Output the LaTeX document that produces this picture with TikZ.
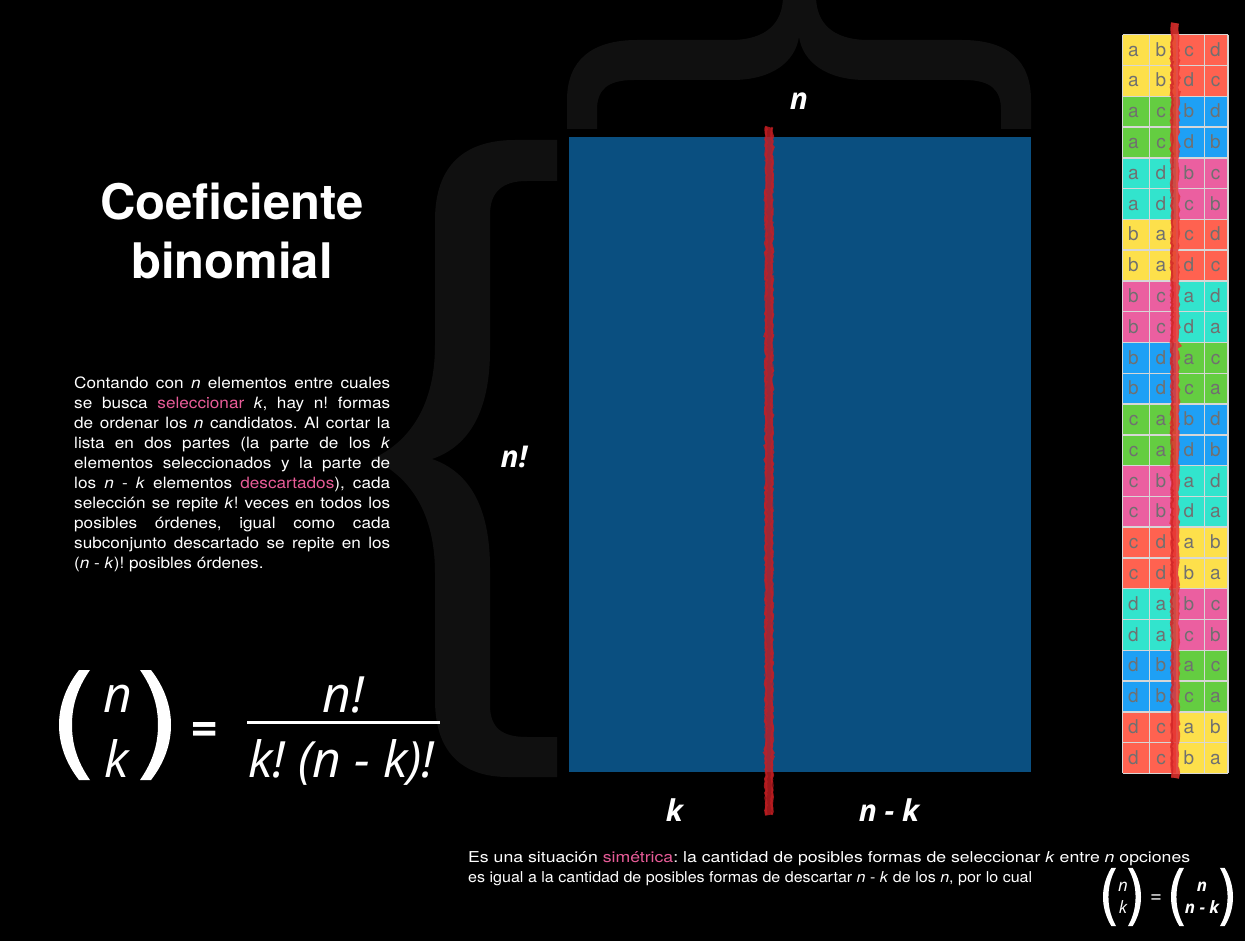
\documentclass[tikz,border=0pt]{standalone}
\usepackage{fontspec}
\usepackage{graphicx}
\setmainfont{TeX Gyre Heros}
\newfontfamily\osans{Open Sans}
\newfontfamily\parafont{TeX Gyre Heros}[FakeStretch=1.1]
\usetikzlibrary{decorations.pathmorphing}
\definecolor{bgblue}{RGB}{10,79,128}
\definecolor{bracegray}{RGB}{16,16,16}
\definecolor{pinktxt}{RGB}{232,92,152}
\definecolor{cY}{RGB}{253,224,75}
\definecolor{cR}{RGB}{255,98,80}
\definecolor{cG}{RGB}{100,205,65}
\definecolor{cB}{RGB}{30,160,245}
\definecolor{cT}{RGB}{50,228,205}
\definecolor{cP}{RGB}{235,95,160}
\definecolor{lettergray}{RGB}{112,112,112}
\definecolor{gridgray}{RGB}{215,215,215}
\definecolor{cutred}{RGB}{200,30,35}
\definecolor{cutred2}{RGB}{228,52,48}
\newcommand\parenshape{(20,-55) -- (31,-55) .. controls (17,-35) and (13,-17) .. (13,0) .. controls (13,17) and (17,35) .. (31,55) -- (20,55) .. controls (6,37) and (0,18) .. (0,0) .. controls (0,-18) and (6,-37) .. (20,-55) -- cycle}
\frenchspacing
\begin{document}
\begin{tikzpicture}[x=1pt,y=-1pt,
  para/.style={text=white,inner sep=0pt,anchor=base west,font=\parafont\fontsize{15.6}{20}\selectfont},
  titletxt/.style={text=white,inner sep=0pt,anchor=base,font=\bfseries\fontsize{49}{49}\selectfont},
  lbl/.style={text=white,inner sep=0pt,anchor=base,font=\osans\bfseries\itshape\fontsize{30}{30}\selectfont},
  frm/.style={text=white,inner sep=0pt,anchor=base,font=\osans\itshape\fontsize{50}{50}\selectfont},
  sfrm/.style={text=white,inner sep=0pt,anchor=base,font=\osans\itshape\fontsize{17}{17}\selectfont},
  sfrmb/.style={text=white,inner sep=0pt,anchor=base,font=\osans\bfseries\itshape\fontsize{17}{17}\selectfont},
  lt/.style={text=lettergray,inner sep=0pt,anchor=base,font=\fontsize{19}{19}\selectfont},
  cut/.style={draw=cutred,opacity=0.78,line width=8pt,decorate,decoration={random steps,segment length=3pt,amplitude=1.2pt}},
  cutthin/.style={draw=cutred,opacity=0.6,line width=2pt,decorate,decoration={random steps,segment length=2pt,amplitude=1pt}},
  cutg/.style={draw=cutred2,opacity=0.85,line width=8pt,decorate,decoration={random steps,segment length=3pt,amplitude=1.2pt}},
  bottomtxt/.style={text=white,inner sep=0pt,anchor=base west,font=\fontsize{15}{18}\selectfont}]
\fill[black] (0,0) rectangle (1245,941);
\useasboundingbox (0,0) rectangle (1245,941);
% top brace
\fill[bracegray] (567,129) -- (567,100) .. controls (567,60) and (592,40) .. (637,40) -- (730,40) .. controls (768,40) and (782,22) .. (783,-2) -- (816,-2) .. controls (817,22) and (831,40) .. (869,40) -- (962,40) .. controls (1007,40) and (1031,60) .. (1031,100) -- (1031,129) -- (1001,129) -- (1001,110) .. controls (1001,90) and (991,80) .. (964,80) -- (866,80) .. controls (826,80) and (803,62) .. (799,37) .. controls (795,62) and (772,80) .. (732,80) -- (634,80) .. controls (607,80) and (597,90) .. (597,110) -- (597,129) -- cycle;
% left brace
\fill[bracegray] (557,140) -- (515,140) .. controls (465,140) and (435,165) .. (435,220) -- (435,345) .. controls (435,405) and (410,442) .. (372,459) .. controls (410,476) and (435,513) .. (435,573) -- (435,700) .. controls (435,752) and (462,777) .. (508,777) -- (557,777) -- (557,737) -- (527,737) .. controls (502,737) and (490,728) .. (490,705) -- (490,568) .. controls (490,508) and (470,472) .. (432,459) .. controls (470,446) and (490,410) .. (490,350) -- (490,215) .. controls (490,192) and (502,181) .. (527,181) -- (557,181) -- cycle;
% blue block
\fill[bgblue] (569,137) rectangle (1031,772);
\coordinate (ct) at (769,127);
\coordinate (cb) at (769,815);
\draw[cut] (ct) -- (cb);
\draw[cutthin] ([xshift=-3pt]ct) -- ([xshift=-3pt]cb);
\draw[cutthin] ([xshift=3pt]ct) -- ([xshift=3pt]cb);
% labels
\node[lbl] (ln) at (799,110) {n};
\node[lbl] (lnf) at (514,467) {n!};
\node[lbl] (lk) at (674.5,821) {k};
\node[lbl] (lnk) at (889,821) {n - k};
% title
\node[titletxt] (t1) at (232,220) {Coeficiente};
\node[titletxt] (t2) at (232,279) {binomial};
% paragraph
\foreach \txt [count=\i] in {
 {Contando con \textit{n} elementos entre cuales},
 {se busca \textcolor{pinktxt}{seleccionar} \textit{k}, hay n! formas},
 {de ordenar los \textit{n} candidatos. Al cortar la},
 {lista en dos partes (la parte de los \textit{k}},
 {elementos seleccionados y la parte de},
 {los \textit{n} - \textit{k} elementos \textcolor{pinktxt}{descartados}), cada},
 {selección se repite \textit{k}! veces en todos los},
 {posibles órdenes, igual como cada},
 {subconjunto descartado se repite en los}}
{\node[para] (p\i) at (74,{368+20*\i}) {\makebox[316pt][s]{\txt}};}
\node[para] (p10) at (74,568) {(\textit{n} - \textit{k})! posibles órdenes.};
% main formula
\begin{scope}[shift={(59,725)}]
\fill[white] \parenshape;
\end{scope}
\begin{scope}[shift={(171,725)},xscale=-1]
\fill[white] \parenshape;
\end{scope}
\node[frm] (fn) at (117.5,712) {n};
\node[frm] (fk) at (117,777) {k};
\node[text=white,inner sep=0pt,anchor=base,font=\osans\bfseries\fontsize{46}{46}\selectfont] (feq) at (205,745) {=};
\node[frm] (fnum) at (343,712) {n!};
\node[frm] (fden) at (341.5,777) {k! (n - k)!};
\coordinate (fl1) at (247,722.5);
\coordinate (fl2) at (440,722.5);
\draw[white,line width=3pt] (fl1) -- (fl2);
% grid
\foreach \pa/\pb/\pc/\pd/\cl/\cr [count=\i] in {a/b/c/d/Y/R, a/b/d/c/Y/R, a/c/b/d/G/B, a/c/d/b/G/B, a/d/b/c/T/P, a/d/c/b/T/P, b/a/c/d/Y/R, b/a/d/c/Y/R, b/c/a/d/P/T, b/c/d/a/P/T, b/d/a/c/B/G, b/d/c/a/B/G, c/a/b/d/G/B, c/a/d/b/G/B, c/b/a/d/P/T, c/b/d/a/P/T, c/d/a/b/R/Y, c/d/b/a/R/Y, d/a/b/c/T/P, d/a/c/b/T/P, d/b/a/c/B/G, d/b/c/a/B/G, d/c/a/b/R/Y, d/c/b/a/R/Y}{
  \pgfmathsetmacro\yy{34.7+(\i-1)*30.78}
  \fill[c\cl] (1122.5,\yy) rectangle (1177,\yy+30.78);
  \fill[c\cr] (1177,\yy) rectangle (1228,\yy+30.78);
}
\foreach \i in {0,...,24}{
  \pgfmathsetmacro\yy{34.7+\i*30.78}
  \draw[gridgray,line width=1.5pt] (1122.5,\yy) -- (1228,\yy);
}
\foreach \xx in {1122.5,1149.5,1177,1204.5,1228}{
  \draw[gridgray,line width=1.5pt] (\xx,34.7) -- (\xx,773.4);
}
\foreach \pa/\pb/\pc/\pd [count=\i] in {a/b/c/d, a/b/d/c, a/c/b/d, a/c/d/b, a/d/b/c, a/d/c/b, b/a/c/d, b/a/d/c, b/c/a/d, b/c/d/a, b/d/a/c, b/d/c/a, c/a/b/d, c/a/d/b, c/b/a/d, c/b/d/a, c/d/a/b, c/d/b/a, d/a/b/c, d/a/c/b, d/b/a/c, d/b/c/a, d/c/a/b, d/c/b/a}{
  \pgfmathsetmacro\yy{34.7+(\i-1)*30.78+21.5}
  \node[lt] (g\i a) at (1133.5,\yy) {\pa};
  \node[lt] (g\i b) at (1161,\yy) {\pb};
  \node[lt] (g\i c) at (1189,\yy) {\pc};
  \node[lt] (g\i d) at (1215.5,\yy) {\pd};
}
\coordinate (gt) at (1175,23);
\coordinate (gb) at (1175,778);
\draw[cutg] (gt) -- (gb);
\draw[cutthin] ([xshift=-3pt]gt) -- ([xshift=-3pt]gb);
% bottom text
\node[bottomtxt] (b1) at (468,862) {\resizebox{722pt}{\height}{Es una situación \textcolor{pinktxt}{simétrica}: la cantidad de posibles formas de seleccionar \textit{k} entre \textit{n} opciones}};
\node[bottomtxt] (b2) at (468,882) {\resizebox{564pt}{\height}{es igual a la cantidad de posibles formas de descartar \textit{n} - \textit{k} de los \textit{n}, por lo cual}};
% small formula
\begin{scope}[shift={(1103,897)},xscale=0.42,yscale=0.53]
\fill[white] \parenshape;
\end{scope}
\begin{scope}[shift={(1141,897)},xscale=-0.42,yscale=0.53]
\fill[white] \parenshape;
\end{scope}
\node[sfrm] (sn) at (1123,891) {n};
\node[sfrm] (sk) at (1123,913) {k};
\node[text=white,inner sep=0pt,anchor=base,font=\osans\fontsize{20}{20}\selectfont] (seq) at (1156,904) {=};
\begin{scope}[shift={(1171,897)},xscale=0.42,yscale=0.53]
\fill[white] \parenshape;
\end{scope}
\begin{scope}[shift={(1233,897)},xscale=-0.42,yscale=0.53]
\fill[white] \parenshape;
\end{scope}
\node[sfrmb] (sn2) at (1202,891) {n};
\node[sfrmb] (snk) at (1202,913) {n - k};
\end{tikzpicture}
\end{document}
